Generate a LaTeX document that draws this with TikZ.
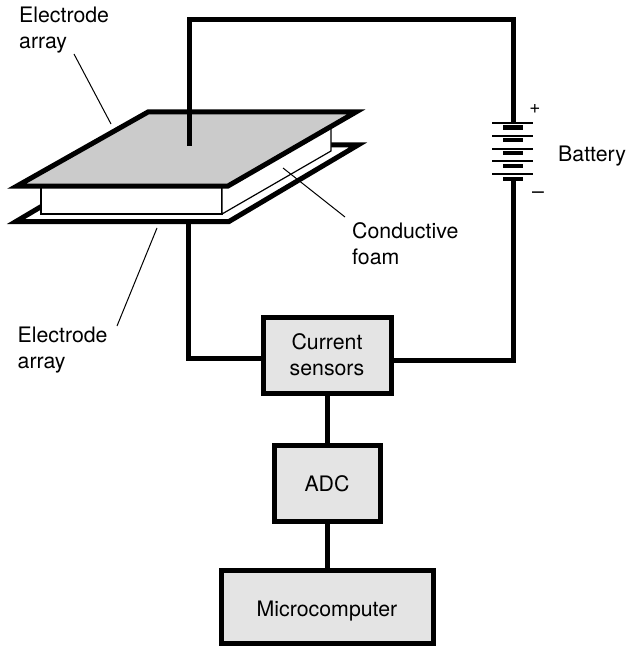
\documentclass[tikz,border=0pt]{standalone}
\usepackage{fontspec}
\setmainfont{TeX Gyre Heros}
\definecolor{plategray}{HTML}{CBCBCB}
\definecolor{boxgray}{HTML}{E4E4E4}
\tikzset{
  wire/.style={line width=5pt,line join=miter},
  plate/.style={line width=5pt,line join=miter,miter limit=10},
  foamline/.style={line width=1.2pt,fill=white,line join=miter},
  leader/.style={line width=1.0pt},
  blockbox/.style={draw,line width=5pt,fill=boxgray,inner sep=0pt,align=center,font=\fontsize{21.3}{26}\selectfont},
  label/.style={inner sep=0pt,align=left,anchor=west,font=\fontsize{21.3}{26}\selectfont},
  longcell/.style={line width=2.4pt},
  shortcell/.style={line width=4.4pt},
}
\begin{document}
\begin{tikzpicture}[x=1pt,y=-1pt]
\useasboundingbox (0,0) rectangle (627,647);
% plates and foam
\draw[plate,fill=white] (16,221.5) -- (145,145) -- (358,145) -- (229,221.5) -- cycle;
\draw[foamline] (41,186) rectangle (222,214);
\draw[foamline] (222,214) -- (331,151) -- (331,125) -- (222,186) -- cycle;
\draw[plate,fill=plategray] (148,112) -- (356,112) -- (228,186) -- (17,186) -- cycle;
% coordinates
\coordinate (topstub) at (189,146);
\coordinate (botstub) at (188,223);
\coordinate (batplus) at (513,123);
\coordinate (batminus) at (513,179);
% battery
\foreach \yy in {123,136,149,161,174} \draw[longcell] (492,\yy) -- (533,\yy);
\foreach \yy in {127.5,140,153,166,179} \draw[shortcell] (503,\yy) -- (523,\yy);
\node[inner sep=0pt,font=\fontsize{19}{19}\selectfont] (plus) at (535,109) {+};
\node[inner sep=0pt,font=\fontsize{21.3}{21}\selectfont] (minus) at (538,195) {–};
% blocks
\node[blockbox,minimum width=128pt,minimum height=76pt] (cs) at (327,355) {Current\\sensors};
\node[blockbox,minimum width=106pt,minimum height=76pt] (adc) at (327,483.5) {ADC};
\node[blockbox,minimum width=212pt,minimum height=73pt,text height=18pt,text depth=0pt] (mc) at (327,607) {Microcomputer};
% wires
\draw[wire] (topstub) |- (batplus |- 0,20) -- (batplus);
\draw[wire] (batminus) |- ([yshift=-5pt]cs.east);
\draw[wire] (botstub) |- ([yshift=-3pt]cs.west);
\draw[wire] (cs.south) -- (adc.north);
\draw[wire] (adc.south) -- (mc.north);
% labels
\node[label] (ea1) at (19,29.6) {Electrode\\array};
\node[label] (ea2) at (17.5,350.3) {Electrode\\array};
\node[label] (cf) at (352,243.6) {Conductive\\foam};
\node[label] (bt) at (558,156.3) {Battery};
% leaders
\coordinate (l1a) at (74,54); \coordinate (l1b) at (111,124);
\coordinate (l2a) at (157,228); \coordinate (l2b) at (117,326);
\coordinate (l3a) at (283,168); \coordinate (l3b) at (345,217);
\draw[leader] (l1a) -- (l1b);
\draw[leader] (l2a) -- (l2b);
\draw[leader] (l3a) -- (l3b);
\end{tikzpicture}
\end{document}
